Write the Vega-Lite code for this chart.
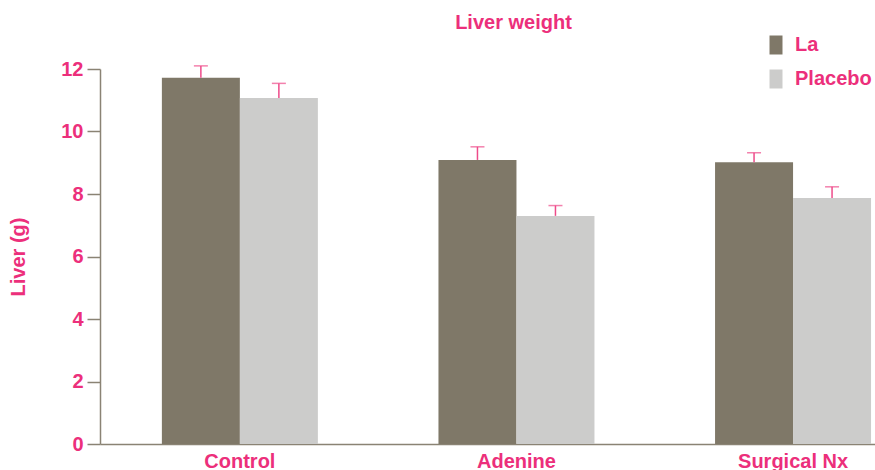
{
  "$schema": "https://vega.github.io/schema/vega-lite/v6.json",
  "width": 775,
  "height": 375,
  "autosize": {"type": "none"},
  "padding": {"left": 100, "top": 69, "right": 0, "bottom": 26},
  "background": "white",
  "title": {
    "text": "Liver weight",
    "anchor": "middle",
    "dx": 26,
    "offset": 2,
    "font": "Liberation Sans",
    "fontSize": 20,
    "fontWeight": "bold",
    "color": "#ec2f7b"
  },
  "config": {
    "view": {"stroke": null},
    "font": "Liberation Sans",
    "axis": {
      "labelFont": "Liberation Sans",
      "labelFontSize": 20,
      "labelFontWeight": "bold",
      "labelColor": "#ec2f7b",
      "titleFont": "Liberation Sans",
      "titleFontSize": 20,
      "titleFontWeight": "bold",
      "titleColor": "#ec2f7b",
      "domainColor": "#8a8374",
      "domainWidth": 1.5,
      "tickColor": "#8a8374",
      "tickWidth": 1.5,
      "grid": false
    }
  },
  "data": {
    "values": [
      {"group": "Control", "treatment": "La", "liver": 11.72, "upper": 12.1},
      {"group": "Control", "treatment": "Placebo", "liver": 11.07, "upper": 11.54},
      {"group": "Adenine", "treatment": "La", "liver": 9.09, "upper": 9.51},
      {"group": "Adenine", "treatment": "Placebo", "liver": 7.3, "upper": 7.63},
      {"group": "Surgical Nx", "treatment": "La", "liver": 9.02, "upper": 9.32},
      {"group": "Surgical Nx", "treatment": "Placebo", "liver": 7.87, "upper": 8.23}
    ]
  },
  "encoding": {
    "x": {
      "field": "group",
      "type": "nominal",
      "sort": ["Control", "Adenine", "Surgical Nx"],
      "scale": {"paddingInner": 0.436, "paddingOuter": 0.119, "align": 0.94},
      "axis": {
        "title": null,
        "labelAngle": 0,
        "ticks": false,
        "labelPadding": 7,
        "encode": {
          "labels": {
            "update": {
              "x": {"scale": "x", "field": "value", "band": 0.5, "offset": {"signal": "datum.value === 'Control' ? -10 : (datum.value === 'Surgical Nx' ? 6 : 0)"}}
            }
          }
        }
      }
    },
    "xOffset": {
      "field": "treatment",
      "type": "nominal",
      "sort": ["La", "Placebo"],
      "scale": {"paddingInner": 0, "paddingOuter": 0}
    }
  },
  "layer": [
    {
      "mark": {"type": "bar"},
      "encoding": {
        "y": {
          "field": "liver",
          "type": "quantitative",
          "scale": {"domain": [0, 12], "nice": false},
          "axis": {
            "title": "Liver (g)",
            "values": [0, 2, 4, 6, 8, 10, 12],
            "tickSize": 13,
            "labelPadding": 4,
            "titlePadding": 32
          }
        },
        "color": {
          "field": "treatment",
          "type": "nominal",
          "sort": ["La", "Placebo"],
          "scale": {"domain": ["La", "Placebo"], "range": ["#7f7868", "#cccccb"]},
          "legend": {
            "title": null,
            "orient": "none",
            "legendX": 666,
            "legendY": -34,
            "symbolType": "M-0.684,-1H0.684V1H-0.684Z",
            "symbolSize": 361,
            "symbolStrokeWidth": 0,
            "symbolOpacity": 1,
            "labelFont": "Liberation Sans",
            "labelFontSize": 20,
            "labelFontWeight": "bold",
            "labelColor": "#ec2f7b",
            "labelOffset": 9,
            "rowPadding": 14,
            "padding": 0
          }
        }
      }
    },
    {
      "mark": {"type": "rule", "color": "#ee4b8a", "strokeWidth": 1.5},
      "encoding": {
        "y": {"field": "liver", "type": "quantitative"},
        "y2": {"field": "upper"}
      }
    },
    {
      "mark": {"type": "tick", "color": "#ee4b8a", "thickness": 1.5, "size": 14, "orient": "horizontal"},
      "encoding": {
        "y": {"field": "upper", "type": "quantitative"}
      }
    }
  ]
}
